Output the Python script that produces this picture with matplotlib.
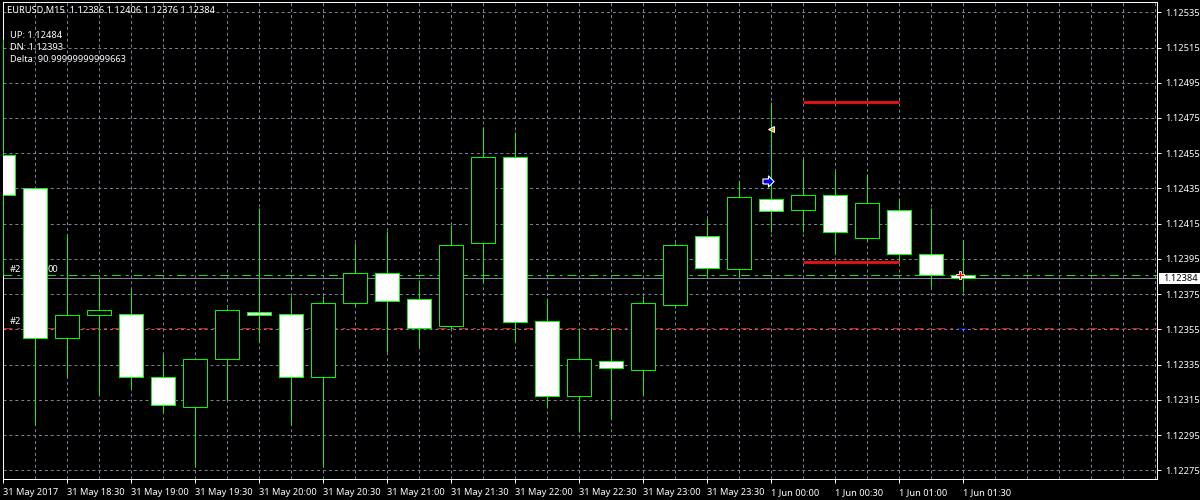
import matplotlib
matplotlib.use('Agg')
import matplotlib.pyplot as plt
import matplotlib.ticker as mticker

plt.rcParams['font.family'] = ['Noto Sans', 'DejaVu Sans']

# candles, 15 min bars from 31 May 18:00
opens = [1.12454, 1.12435, 1.12350, 1.12363, 1.12364, 1.12328, 1.12311, 1.12338,
         1.12365, 1.12364, 1.12328, 1.12370, 1.12387, 1.12372, 1.12357, 1.12404,
         1.12453, 1.12360, 1.12317, 1.12337, 1.12332, 1.12369, 1.12408, 1.12389,
         1.12429, 1.12423, 1.12431, 1.12407, 1.12423, 1.12398, 1.12386]
highs = [1.12520, 1.12436, 1.12409, 1.12385, 1.12378, 1.12341, 1.12339, 1.12367,
         1.12424, 1.12374, 1.12374, 1.12404, 1.12411, 1.12383, 1.12414, 1.12470,
         1.12467, 1.12373, 1.12356, 1.12356, 1.12374, 1.12404, 1.12418, 1.12439,
         1.12484, 1.12452, 1.12445, 1.12443, 1.12429, 1.12424, 1.12406]
lows = [1.12386, 1.12301, 1.12328, 1.12318, 1.12321, 1.12308, 1.12277, 1.12315,
        1.12348, 1.12301, 1.12277, 1.12368, 1.12342, 1.12345, 1.12355, 1.12382,
        1.12348, 1.12311, 1.12297, 1.12304, 1.12318, 1.12367, 1.12385, 1.12385,
        1.12410, 1.12410, 1.12398, 1.12406, 1.12393, 1.12379, 1.12376]
closes = [1.12431, 1.12350, 1.12363, 1.12366, 1.12328, 1.12312, 1.12338, 1.12366,
          1.12363, 1.12328, 1.12370, 1.12387, 1.12371, 1.12356, 1.12403, 1.12453,
          1.12359, 1.12317, 1.12338, 1.12333, 1.12370, 1.12403, 1.12390, 1.12430,
          1.12422, 1.12431, 1.12410, 1.12427, 1.12398, 1.12386, 1.12384]

time_labels = ['31 May 2017', '31 May 18:30', '31 May 19:00', '31 May 19:30', '31 May 20:00',
               '31 May 20:30', '31 May 21:00', '31 May 21:30', '31 May 22:00', '31 May 22:30',
               '31 May 23:00', '31 May 23:30', '1 Jun 00:00', '1 Jun 00:30', '1 Jun 01:00',
               '1 Jun 01:30']

level_up = 1.12484
level_dn = 1.12393
order_open = 1.12386
order_stop = 1.12356
bid = 1.12384

# arrows: bar index, price
arrow_sell = (24, 1.12469)
arrow_buy = (23.9, 1.12439)
arrow_close = (29.9, 1.12386)

title = 'EURUSD,M15  1.12386 1.12406 1.12376 1.12384'
info = ['UP: 1.12484', 'DN: 1.12393', 'Delta: 90.99999999999663']

green = '#00ff00'
grid_col = '#778899'
font_px = 6.7
line_w = 0.71  # just under one pixel so agg snaps to the pixel centre
px_x = 32  # pixels per bar
px_y = 1.7615  # pixels per point
fat_arrow = [(-1, -0.45), (0, -0.45), (0, -1), (1, 0), (0, 1), (0, 0.45), (-1, 0.45), (-1, -0.45)]

fig = plt.figure(figsize=(12, 5), dpi=100, facecolor='black')
ax = fig.add_axes([2.5 / 1200, 1 - 479.3 / 500, 1154.5 / 1200, 477 / 500], facecolor='black')
ax.set_xlim(-0.5 / px_x, 1154 / px_x)
ax.set_ylim(1.12535 - 467 / px_y * 1e-5, 1.12535 + 10 / px_y * 1e-5)

# grid
ax.xaxis.set_minor_locator(mticker.MultipleLocator(1))
ax.yaxis.set_major_locator(mticker.FixedLocator([1.12275 + 0.0002 * i for i in range(14)]))
ax.set_axisbelow(True)
ax.grid(which='both', color=grid_col, linewidth=line_w, dashes=(3, 3))
ax.tick_params(which='minor', length=0)
ax.tick_params(axis='x', which='major', length=3, width=line_w, color='white', pad=3)
ax.tick_params(axis='y', which='major', length=3, width=line_w, color='white', pad=3,
               left=False, right=True, labelleft=False, labelright=True)
ax.set_xticks(range(0, 2 * len(time_labels), 2))
ax.set_xticklabels(time_labels, color='white', fontsize=font_px, ha='left')
ax.set_xlim(-0.5 / px_x, 1154 / px_x)
ax.yaxis.set_major_formatter(mticker.FormatStrFormatter('%.5f'))
for lab in ax.get_yticklabels():
    lab.set_color('white')
    lab.set_fontsize(font_px)
for sp in ax.spines.values():
    sp.set_color('white')
    sp.set_linewidth(line_w)

# order labels sit under the candles
ax.text(7 / px_x, order_open + 3.2e-5, '#2', color='white', fontsize=font_px, va='center', zorder=2)
ax.text(45 / px_x, order_open + 3.2e-5, '00', color='white', fontsize=font_px, va='center', zorder=2)
ax.text(7 / px_x, order_stop + 3.2e-5, '#2', color='white', fontsize=font_px, va='center', zorder=2)

# order and price lines
ax.axhline(order_open, color='#22dd22', linewidth=line_w, dashes=(9, 5, 3, 5), zorder=2.2)
ax.axhline(order_stop, color='#ee1111', linewidth=line_w, dashes=(9, 5, 3, 5), zorder=2.2)
ax.axhline(bid, color=grid_col, linewidth=line_w, zorder=2.3)

# candles
for i in range(len(opens)):
    o, h, l, c = opens[i], highs[i], lows[i], closes[i]
    ax.plot([i, i], [l, h], color=green, linewidth=line_w, solid_capstyle='butt', zorder=3)
    ax.bar(i, abs(o - c), bottom=min(o, c), width=24 / px_x,
           facecolor='white' if c < o else 'black', edgecolor=green, linewidth=line_w, zorder=4)

# up and down levels
ax.plot([25, 28], [level_up, level_up], color='#ee1111', linewidth=2, solid_capstyle='butt', zorder=5)
ax.plot([25, 28], [level_dn, level_dn], color='#ee1111', linewidth=2, solid_capstyle='butt', zorder=5)

# trade arrows
ax.plot([arrow_buy[0], arrow_sell[0]], [arrow_buy[1], arrow_sell[1]], color='#0000dd', linewidth=line_w,
        dashes=(2, 3), zorder=5)
ax.plot([29.8, 30.1], [order_stop, order_stop], color='#0000dd', linewidth=line_w, zorder=5)
ax.plot(*arrow_sell, marker='<', markersize=5, color='#daa520', markeredgecolor='white', markeredgewidth=0.7, zorder=6)
ax.plot(*arrow_buy, marker=fat_arrow, markersize=8, color='#0000ee', markeredgecolor='white', markeredgewidth=0.8, zorder=6)
ax.plot(*arrow_close, marker='P', markersize=6, color='#ee0000', markeredgecolor='white', markeredgewidth=0.6, zorder=6)

# bid tag on the price scale
fig.patches.append(plt.Rectangle((1159 / 1200, 1 - 284 / 500), 41 / 1200, 11 / 500, transform=fig.transFigure,
                                 facecolor='white', edgecolor='none'))
fig.text(1163 / 1200, 1 - 278.5 / 500, '%.5f' % bid, color='black', fontsize=font_px, va='center')

# header text
fig.text(7 / 1200, 1 - 10 / 500, title, color='white', fontsize=font_px, va='center')
for i, line in enumerate(info):
    fig.text(10 / 1200, 1 - (35 + 12 * i) / 500, line, color='white', fontsize=font_px, va='center')

fig.savefig('out.png', dpi=100, facecolor='black')
